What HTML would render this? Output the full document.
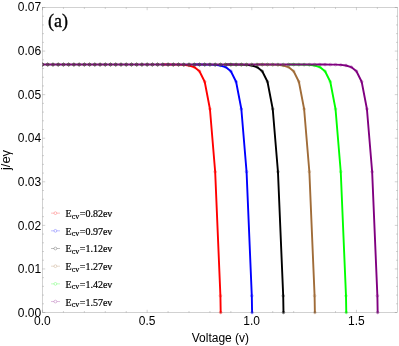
<!DOCTYPE html><html><head><meta charset="utf-8"><style>html,body{margin:0;padding:0;background:#fff;}body{width:399px;height:346px;overflow:hidden;}svg{display:block;will-change:transform;}text{font-family:"Liberation Sans",sans-serif;}</style></head><body>
<svg width="399" height="346" viewBox="0 0 399 346">
<rect width="399" height="346" fill="#fff"/>
<defs><clipPath id="c"><rect x="42" y="7" width="356" height="310"/></clipPath></defs>
<g clip-path="url(#c)" fill="none" stroke-linejoin="round">
<polyline stroke="#ff0000" stroke-width="1.9" stroke-linecap="butt" points="162.85,64.56 168.08,64.57 173.31,64.60 178.55,64.67 183.78,64.89 189.01,65.47 194.24,67.05 199.48,71.24 204.71,81.76 209.94,109.03 215.17,171.74 220.41,295.81 220.70,312.50"/>
<circle cx="220.70" cy="312.50" r="0.95" fill="#ff0000"/>
<polyline stroke="#0000ff" stroke-width="1.9" stroke-linecap="butt" points="194.24,64.56 199.48,64.57 204.71,64.60 209.94,64.67 215.17,64.89 220.41,65.47 225.64,67.05 230.87,71.24 236.10,81.76 241.34,109.03 246.57,171.74 251.80,295.81 252.09,312.50"/>
<circle cx="252.09" cy="312.50" r="0.95" fill="#0000ff"/>
<polyline stroke="#000000" stroke-width="1.9" stroke-linecap="butt" points="225.64,64.56 230.87,64.57 236.10,64.60 241.34,64.67 246.57,64.89 251.80,65.47 257.03,67.05 262.26,71.24 267.50,81.76 272.73,109.03 277.96,171.74 283.20,295.81 283.49,312.50"/>
<circle cx="283.49" cy="312.50" r="0.95" fill="#000000"/>
<polyline stroke="#a06c38" stroke-width="1.9" stroke-linecap="butt" points="257.03,64.56 262.26,64.57 267.50,64.60 272.73,64.67 277.96,64.89 283.20,65.47 288.43,67.05 293.66,71.24 298.89,81.76 304.12,109.03 309.36,171.74 314.59,295.81 314.88,312.50"/>
<circle cx="314.88" cy="312.50" r="0.95" fill="#a06c38"/>
<polyline stroke="#00ff00" stroke-width="1.9" stroke-linecap="butt" points="288.43,64.56 293.66,64.57 298.89,64.60 304.12,64.67 309.36,64.89 314.59,65.47 319.82,67.05 325.06,71.24 330.29,81.76 335.52,109.03 340.75,171.74 345.99,295.81 346.28,312.50"/>
<circle cx="346.28" cy="312.50" r="0.95" fill="#00ff00"/>
<polyline stroke="#800080" stroke-width="1.9" stroke-linecap="butt" points="42.50,64.55 47.73,64.55 52.97,64.55 58.20,64.55 63.43,64.55 68.66,64.55 73.90,64.55 79.13,64.55 84.36,64.55 89.59,64.55 94.83,64.55 100.06,64.55 105.29,64.55 110.52,64.55 115.76,64.55 120.99,64.55 126.22,64.55 131.45,64.55 136.69,64.55 141.92,64.55 147.15,64.55 152.38,64.55 157.62,64.55 162.85,64.55 168.08,64.55 173.31,64.55 178.55,64.55 183.78,64.55 189.01,64.55 194.24,64.55 199.48,64.55 204.71,64.55 209.94,64.55 215.17,64.55 220.41,64.55 225.64,64.55 230.87,64.55 236.10,64.55 241.34,64.55 246.57,64.55 251.80,64.55 257.03,64.55 262.26,64.55 267.50,64.55 272.73,64.55 277.96,64.55 283.20,64.55 288.43,64.55 293.66,64.55 298.89,64.55 304.12,64.55 309.36,64.55 314.59,64.55 319.82,64.56 325.06,64.57 330.29,64.60 335.52,64.67 340.75,64.89 345.99,65.47 351.22,67.05 356.45,71.24 361.68,81.76 366.92,109.03 372.15,171.74 377.38,295.81 377.67,312.50"/>
<circle cx="377.67" cy="312.50" r="0.95" fill="#800080"/>
<g stroke="#ff0000" stroke-opacity="0.5" stroke-width="0.6">
<circle cx="42.50" cy="64.55" r="1.35"/>
<circle cx="47.73" cy="64.55" r="1.35"/>
<circle cx="52.97" cy="64.55" r="1.35"/>
<circle cx="58.20" cy="64.55" r="1.35"/>
<circle cx="63.43" cy="64.55" r="1.35"/>
<circle cx="68.66" cy="64.55" r="1.35"/>
<circle cx="73.90" cy="64.55" r="1.35"/>
<circle cx="79.13" cy="64.55" r="1.35"/>
<circle cx="84.36" cy="64.55" r="1.35"/>
<circle cx="89.59" cy="64.55" r="1.35"/>
<circle cx="94.83" cy="64.55" r="1.35"/>
<circle cx="100.06" cy="64.55" r="1.35"/>
<circle cx="105.29" cy="64.55" r="1.35"/>
<circle cx="110.52" cy="64.55" r="1.35"/>
<circle cx="115.76" cy="64.55" r="1.35"/>
<circle cx="120.99" cy="64.55" r="1.35"/>
<circle cx="126.22" cy="64.55" r="1.35"/>
<circle cx="131.45" cy="64.55" r="1.35"/>
<circle cx="136.69" cy="64.55" r="1.35"/>
<circle cx="141.92" cy="64.55" r="1.35"/>
<circle cx="147.15" cy="64.55" r="1.35"/>
<circle cx="152.38" cy="64.55" r="1.35"/>
<circle cx="157.62" cy="64.55" r="1.35"/>
<circle cx="162.85" cy="64.56" r="1.35"/>
<circle cx="168.08" cy="64.57" r="1.35"/>
<circle cx="173.31" cy="64.60" r="1.35"/>
<circle cx="178.55" cy="64.67" r="1.35"/>
<circle cx="183.78" cy="64.89" r="1.35"/>
<circle cx="189.01" cy="65.47" r="1.35"/>
<circle cx="194.24" cy="67.05" r="1.35"/>
<circle cx="199.48" cy="71.24" r="1.35"/>
<circle cx="204.71" cy="81.76" r="1.35"/>
<circle cx="209.94" cy="109.03" r="1.35"/>
<circle cx="215.17" cy="171.74" r="1.35"/>
<circle cx="220.41" cy="295.81" r="1.35"/>
<circle cx="220.70" cy="312.50" r="1.35"/>
</g>
<g stroke="#0000ff" stroke-opacity="0.5" stroke-width="0.6">
<circle cx="42.50" cy="64.55" r="1.35"/>
<circle cx="47.73" cy="64.55" r="1.35"/>
<circle cx="52.97" cy="64.55" r="1.35"/>
<circle cx="58.20" cy="64.55" r="1.35"/>
<circle cx="63.43" cy="64.55" r="1.35"/>
<circle cx="68.66" cy="64.55" r="1.35"/>
<circle cx="73.90" cy="64.55" r="1.35"/>
<circle cx="79.13" cy="64.55" r="1.35"/>
<circle cx="84.36" cy="64.55" r="1.35"/>
<circle cx="89.59" cy="64.55" r="1.35"/>
<circle cx="94.83" cy="64.55" r="1.35"/>
<circle cx="100.06" cy="64.55" r="1.35"/>
<circle cx="105.29" cy="64.55" r="1.35"/>
<circle cx="110.52" cy="64.55" r="1.35"/>
<circle cx="115.76" cy="64.55" r="1.35"/>
<circle cx="120.99" cy="64.55" r="1.35"/>
<circle cx="126.22" cy="64.55" r="1.35"/>
<circle cx="131.45" cy="64.55" r="1.35"/>
<circle cx="136.69" cy="64.55" r="1.35"/>
<circle cx="141.92" cy="64.55" r="1.35"/>
<circle cx="147.15" cy="64.55" r="1.35"/>
<circle cx="152.38" cy="64.55" r="1.35"/>
<circle cx="157.62" cy="64.55" r="1.35"/>
<circle cx="162.85" cy="64.55" r="1.35"/>
<circle cx="168.08" cy="64.55" r="1.35"/>
<circle cx="173.31" cy="64.55" r="1.35"/>
<circle cx="178.55" cy="64.55" r="1.35"/>
<circle cx="183.78" cy="64.55" r="1.35"/>
<circle cx="189.01" cy="64.55" r="1.35"/>
<circle cx="194.24" cy="64.56" r="1.35"/>
<circle cx="199.48" cy="64.57" r="1.35"/>
<circle cx="204.71" cy="64.60" r="1.35"/>
<circle cx="209.94" cy="64.67" r="1.35"/>
<circle cx="215.17" cy="64.89" r="1.35"/>
<circle cx="220.41" cy="65.47" r="1.35"/>
<circle cx="225.64" cy="67.05" r="1.35"/>
<circle cx="230.87" cy="71.24" r="1.35"/>
<circle cx="236.10" cy="81.76" r="1.35"/>
<circle cx="241.34" cy="109.03" r="1.35"/>
<circle cx="246.57" cy="171.74" r="1.35"/>
<circle cx="251.80" cy="295.81" r="1.35"/>
<circle cx="252.09" cy="312.50" r="1.35"/>
</g>
<g stroke="#000000" stroke-opacity="0.5" stroke-width="0.6">
<circle cx="42.50" cy="64.55" r="1.35"/>
<circle cx="47.73" cy="64.55" r="1.35"/>
<circle cx="52.97" cy="64.55" r="1.35"/>
<circle cx="58.20" cy="64.55" r="1.35"/>
<circle cx="63.43" cy="64.55" r="1.35"/>
<circle cx="68.66" cy="64.55" r="1.35"/>
<circle cx="73.90" cy="64.55" r="1.35"/>
<circle cx="79.13" cy="64.55" r="1.35"/>
<circle cx="84.36" cy="64.55" r="1.35"/>
<circle cx="89.59" cy="64.55" r="1.35"/>
<circle cx="94.83" cy="64.55" r="1.35"/>
<circle cx="100.06" cy="64.55" r="1.35"/>
<circle cx="105.29" cy="64.55" r="1.35"/>
<circle cx="110.52" cy="64.55" r="1.35"/>
<circle cx="115.76" cy="64.55" r="1.35"/>
<circle cx="120.99" cy="64.55" r="1.35"/>
<circle cx="126.22" cy="64.55" r="1.35"/>
<circle cx="131.45" cy="64.55" r="1.35"/>
<circle cx="136.69" cy="64.55" r="1.35"/>
<circle cx="141.92" cy="64.55" r="1.35"/>
<circle cx="147.15" cy="64.55" r="1.35"/>
<circle cx="152.38" cy="64.55" r="1.35"/>
<circle cx="157.62" cy="64.55" r="1.35"/>
<circle cx="162.85" cy="64.55" r="1.35"/>
<circle cx="168.08" cy="64.55" r="1.35"/>
<circle cx="173.31" cy="64.55" r="1.35"/>
<circle cx="178.55" cy="64.55" r="1.35"/>
<circle cx="183.78" cy="64.55" r="1.35"/>
<circle cx="189.01" cy="64.55" r="1.35"/>
<circle cx="194.24" cy="64.55" r="1.35"/>
<circle cx="199.48" cy="64.55" r="1.35"/>
<circle cx="204.71" cy="64.55" r="1.35"/>
<circle cx="209.94" cy="64.55" r="1.35"/>
<circle cx="215.17" cy="64.55" r="1.35"/>
<circle cx="220.41" cy="64.55" r="1.35"/>
<circle cx="225.64" cy="64.56" r="1.35"/>
<circle cx="230.87" cy="64.57" r="1.35"/>
<circle cx="236.10" cy="64.60" r="1.35"/>
<circle cx="241.34" cy="64.67" r="1.35"/>
<circle cx="246.57" cy="64.89" r="1.35"/>
<circle cx="251.80" cy="65.47" r="1.35"/>
<circle cx="257.03" cy="67.05" r="1.35"/>
<circle cx="262.26" cy="71.24" r="1.35"/>
<circle cx="267.50" cy="81.76" r="1.35"/>
<circle cx="272.73" cy="109.03" r="1.35"/>
<circle cx="277.96" cy="171.74" r="1.35"/>
<circle cx="283.20" cy="295.81" r="1.35"/>
<circle cx="283.49" cy="312.50" r="1.35"/>
</g>
<g stroke="#a06c38" stroke-opacity="0.5" stroke-width="0.6">
<circle cx="42.50" cy="64.55" r="1.35"/>
<circle cx="47.73" cy="64.55" r="1.35"/>
<circle cx="52.97" cy="64.55" r="1.35"/>
<circle cx="58.20" cy="64.55" r="1.35"/>
<circle cx="63.43" cy="64.55" r="1.35"/>
<circle cx="68.66" cy="64.55" r="1.35"/>
<circle cx="73.90" cy="64.55" r="1.35"/>
<circle cx="79.13" cy="64.55" r="1.35"/>
<circle cx="84.36" cy="64.55" r="1.35"/>
<circle cx="89.59" cy="64.55" r="1.35"/>
<circle cx="94.83" cy="64.55" r="1.35"/>
<circle cx="100.06" cy="64.55" r="1.35"/>
<circle cx="105.29" cy="64.55" r="1.35"/>
<circle cx="110.52" cy="64.55" r="1.35"/>
<circle cx="115.76" cy="64.55" r="1.35"/>
<circle cx="120.99" cy="64.55" r="1.35"/>
<circle cx="126.22" cy="64.55" r="1.35"/>
<circle cx="131.45" cy="64.55" r="1.35"/>
<circle cx="136.69" cy="64.55" r="1.35"/>
<circle cx="141.92" cy="64.55" r="1.35"/>
<circle cx="147.15" cy="64.55" r="1.35"/>
<circle cx="152.38" cy="64.55" r="1.35"/>
<circle cx="157.62" cy="64.55" r="1.35"/>
<circle cx="162.85" cy="64.55" r="1.35"/>
<circle cx="168.08" cy="64.55" r="1.35"/>
<circle cx="173.31" cy="64.55" r="1.35"/>
<circle cx="178.55" cy="64.55" r="1.35"/>
<circle cx="183.78" cy="64.55" r="1.35"/>
<circle cx="189.01" cy="64.55" r="1.35"/>
<circle cx="194.24" cy="64.55" r="1.35"/>
<circle cx="199.48" cy="64.55" r="1.35"/>
<circle cx="204.71" cy="64.55" r="1.35"/>
<circle cx="209.94" cy="64.55" r="1.35"/>
<circle cx="215.17" cy="64.55" r="1.35"/>
<circle cx="220.41" cy="64.55" r="1.35"/>
<circle cx="225.64" cy="64.55" r="1.35"/>
<circle cx="230.87" cy="64.55" r="1.35"/>
<circle cx="236.10" cy="64.55" r="1.35"/>
<circle cx="241.34" cy="64.55" r="1.35"/>
<circle cx="246.57" cy="64.55" r="1.35"/>
<circle cx="251.80" cy="64.55" r="1.35"/>
<circle cx="257.03" cy="64.56" r="1.35"/>
<circle cx="262.26" cy="64.57" r="1.35"/>
<circle cx="267.50" cy="64.60" r="1.35"/>
<circle cx="272.73" cy="64.67" r="1.35"/>
<circle cx="277.96" cy="64.89" r="1.35"/>
<circle cx="283.20" cy="65.47" r="1.35"/>
<circle cx="288.43" cy="67.05" r="1.35"/>
<circle cx="293.66" cy="71.24" r="1.35"/>
<circle cx="298.89" cy="81.76" r="1.35"/>
<circle cx="304.12" cy="109.03" r="1.35"/>
<circle cx="309.36" cy="171.74" r="1.35"/>
<circle cx="314.59" cy="295.81" r="1.35"/>
<circle cx="314.88" cy="312.50" r="1.35"/>
</g>
<g stroke="#00ff00" stroke-opacity="0.5" stroke-width="0.6">
<circle cx="42.50" cy="64.55" r="1.35"/>
<circle cx="47.73" cy="64.55" r="1.35"/>
<circle cx="52.97" cy="64.55" r="1.35"/>
<circle cx="58.20" cy="64.55" r="1.35"/>
<circle cx="63.43" cy="64.55" r="1.35"/>
<circle cx="68.66" cy="64.55" r="1.35"/>
<circle cx="73.90" cy="64.55" r="1.35"/>
<circle cx="79.13" cy="64.55" r="1.35"/>
<circle cx="84.36" cy="64.55" r="1.35"/>
<circle cx="89.59" cy="64.55" r="1.35"/>
<circle cx="94.83" cy="64.55" r="1.35"/>
<circle cx="100.06" cy="64.55" r="1.35"/>
<circle cx="105.29" cy="64.55" r="1.35"/>
<circle cx="110.52" cy="64.55" r="1.35"/>
<circle cx="115.76" cy="64.55" r="1.35"/>
<circle cx="120.99" cy="64.55" r="1.35"/>
<circle cx="126.22" cy="64.55" r="1.35"/>
<circle cx="131.45" cy="64.55" r="1.35"/>
<circle cx="136.69" cy="64.55" r="1.35"/>
<circle cx="141.92" cy="64.55" r="1.35"/>
<circle cx="147.15" cy="64.55" r="1.35"/>
<circle cx="152.38" cy="64.55" r="1.35"/>
<circle cx="157.62" cy="64.55" r="1.35"/>
<circle cx="162.85" cy="64.55" r="1.35"/>
<circle cx="168.08" cy="64.55" r="1.35"/>
<circle cx="173.31" cy="64.55" r="1.35"/>
<circle cx="178.55" cy="64.55" r="1.35"/>
<circle cx="183.78" cy="64.55" r="1.35"/>
<circle cx="189.01" cy="64.55" r="1.35"/>
<circle cx="194.24" cy="64.55" r="1.35"/>
<circle cx="199.48" cy="64.55" r="1.35"/>
<circle cx="204.71" cy="64.55" r="1.35"/>
<circle cx="209.94" cy="64.55" r="1.35"/>
<circle cx="215.17" cy="64.55" r="1.35"/>
<circle cx="220.41" cy="64.55" r="1.35"/>
<circle cx="225.64" cy="64.55" r="1.35"/>
<circle cx="230.87" cy="64.55" r="1.35"/>
<circle cx="236.10" cy="64.55" r="1.35"/>
<circle cx="241.34" cy="64.55" r="1.35"/>
<circle cx="246.57" cy="64.55" r="1.35"/>
<circle cx="251.80" cy="64.55" r="1.35"/>
<circle cx="257.03" cy="64.55" r="1.35"/>
<circle cx="262.26" cy="64.55" r="1.35"/>
<circle cx="267.50" cy="64.55" r="1.35"/>
<circle cx="272.73" cy="64.55" r="1.35"/>
<circle cx="277.96" cy="64.55" r="1.35"/>
<circle cx="283.20" cy="64.55" r="1.35"/>
<circle cx="288.43" cy="64.56" r="1.35"/>
<circle cx="293.66" cy="64.57" r="1.35"/>
<circle cx="298.89" cy="64.60" r="1.35"/>
<circle cx="304.12" cy="64.67" r="1.35"/>
<circle cx="309.36" cy="64.89" r="1.35"/>
<circle cx="314.59" cy="65.47" r="1.35"/>
<circle cx="319.82" cy="67.05" r="1.35"/>
<circle cx="325.06" cy="71.24" r="1.35"/>
<circle cx="330.29" cy="81.76" r="1.35"/>
<circle cx="335.52" cy="109.03" r="1.35"/>
<circle cx="340.75" cy="171.74" r="1.35"/>
<circle cx="345.99" cy="295.81" r="1.35"/>
<circle cx="346.28" cy="312.50" r="1.35"/>
</g>
<g stroke="#800080" stroke-opacity="0.5" stroke-width="0.6">
<circle cx="42.50" cy="64.55" r="1.35"/>
<circle cx="47.73" cy="64.55" r="1.35"/>
<circle cx="52.97" cy="64.55" r="1.35"/>
<circle cx="58.20" cy="64.55" r="1.35"/>
<circle cx="63.43" cy="64.55" r="1.35"/>
<circle cx="68.66" cy="64.55" r="1.35"/>
<circle cx="73.90" cy="64.55" r="1.35"/>
<circle cx="79.13" cy="64.55" r="1.35"/>
<circle cx="84.36" cy="64.55" r="1.35"/>
<circle cx="89.59" cy="64.55" r="1.35"/>
<circle cx="94.83" cy="64.55" r="1.35"/>
<circle cx="100.06" cy="64.55" r="1.35"/>
<circle cx="105.29" cy="64.55" r="1.35"/>
<circle cx="110.52" cy="64.55" r="1.35"/>
<circle cx="115.76" cy="64.55" r="1.35"/>
<circle cx="120.99" cy="64.55" r="1.35"/>
<circle cx="126.22" cy="64.55" r="1.35"/>
<circle cx="131.45" cy="64.55" r="1.35"/>
<circle cx="136.69" cy="64.55" r="1.35"/>
<circle cx="141.92" cy="64.55" r="1.35"/>
<circle cx="147.15" cy="64.55" r="1.35"/>
<circle cx="152.38" cy="64.55" r="1.35"/>
<circle cx="157.62" cy="64.55" r="1.35"/>
<circle cx="162.85" cy="64.55" r="1.35"/>
<circle cx="168.08" cy="64.55" r="1.35"/>
<circle cx="173.31" cy="64.55" r="1.35"/>
<circle cx="178.55" cy="64.55" r="1.35"/>
<circle cx="183.78" cy="64.55" r="1.35"/>
<circle cx="189.01" cy="64.55" r="1.35"/>
<circle cx="194.24" cy="64.55" r="1.35"/>
<circle cx="199.48" cy="64.55" r="1.35"/>
<circle cx="204.71" cy="64.55" r="1.35"/>
<circle cx="209.94" cy="64.55" r="1.35"/>
<circle cx="215.17" cy="64.55" r="1.35"/>
<circle cx="220.41" cy="64.55" r="1.35"/>
<circle cx="225.64" cy="64.55" r="1.35"/>
<circle cx="230.87" cy="64.55" r="1.35"/>
<circle cx="236.10" cy="64.55" r="1.35"/>
<circle cx="241.34" cy="64.55" r="1.35"/>
<circle cx="246.57" cy="64.55" r="1.35"/>
<circle cx="251.80" cy="64.55" r="1.35"/>
<circle cx="257.03" cy="64.55" r="1.35"/>
<circle cx="262.26" cy="64.55" r="1.35"/>
<circle cx="267.50" cy="64.55" r="1.35"/>
<circle cx="272.73" cy="64.55" r="1.35"/>
<circle cx="277.96" cy="64.55" r="1.35"/>
<circle cx="283.20" cy="64.55" r="1.35"/>
<circle cx="288.43" cy="64.55" r="1.35"/>
<circle cx="293.66" cy="64.55" r="1.35"/>
<circle cx="298.89" cy="64.55" r="1.35"/>
<circle cx="304.12" cy="64.55" r="1.35"/>
<circle cx="309.36" cy="64.55" r="1.35"/>
<circle cx="314.59" cy="64.55" r="1.35"/>
<circle cx="319.82" cy="64.56" r="1.35"/>
<circle cx="325.06" cy="64.57" r="1.35"/>
<circle cx="330.29" cy="64.60" r="1.35"/>
<circle cx="335.52" cy="64.67" r="1.35"/>
<circle cx="340.75" cy="64.89" r="1.35"/>
<circle cx="345.99" cy="65.47" r="1.35"/>
<circle cx="351.22" cy="67.05" r="1.35"/>
<circle cx="356.45" cy="71.24" r="1.35"/>
<circle cx="361.68" cy="81.76" r="1.35"/>
<circle cx="366.92" cy="109.03" r="1.35"/>
<circle cx="372.15" cy="171.74" r="1.35"/>
<circle cx="377.38" cy="295.81" r="1.35"/>
<circle cx="377.67" cy="312.50" r="1.35"/>
</g>
</g>
<g stroke="#666" stroke-width="0.3" fill="none">
<rect x="42.5" y="7.5" width="355.0" height="305.0"/>
<path d="M42.50 312.5v-2.7M42.50 7.5v2.7"/>
<path d="M63.43 312.5v-1.5M63.43 7.5v1.5"/>
<path d="M84.36 312.5v-1.5M84.36 7.5v1.5"/>
<path d="M105.29 312.5v-1.5M105.29 7.5v1.5"/>
<path d="M126.22 312.5v-1.5M126.22 7.5v1.5"/>
<path d="M147.15 312.5v-2.7M147.15 7.5v2.7"/>
<path d="M168.08 312.5v-1.5M168.08 7.5v1.5"/>
<path d="M189.01 312.5v-1.5M189.01 7.5v1.5"/>
<path d="M209.94 312.5v-1.5M209.94 7.5v1.5"/>
<path d="M230.87 312.5v-1.5M230.87 7.5v1.5"/>
<path d="M251.80 312.5v-2.7M251.80 7.5v2.7"/>
<path d="M272.73 312.5v-1.5M272.73 7.5v1.5"/>
<path d="M293.66 312.5v-1.5M293.66 7.5v1.5"/>
<path d="M314.59 312.5v-1.5M314.59 7.5v1.5"/>
<path d="M335.52 312.5v-1.5M335.52 7.5v1.5"/>
<path d="M356.45 312.5v-2.7M356.45 7.5v2.7"/>
<path d="M377.38 312.5v-1.5M377.38 7.5v1.5"/>
<path d="M42.5 312.50h2.7M397.5 312.50h-2.7"/>
<path d="M42.5 303.79h1.5M397.5 303.79h-1.5"/>
<path d="M42.5 295.07h1.5M397.5 295.07h-1.5"/>
<path d="M42.5 286.36h1.5M397.5 286.36h-1.5"/>
<path d="M42.5 277.64h1.5M397.5 277.64h-1.5"/>
<path d="M42.5 268.93h2.7M397.5 268.93h-2.7"/>
<path d="M42.5 260.22h1.5M397.5 260.22h-1.5"/>
<path d="M42.5 251.50h1.5M397.5 251.50h-1.5"/>
<path d="M42.5 242.79h1.5M397.5 242.79h-1.5"/>
<path d="M42.5 234.07h1.5M397.5 234.07h-1.5"/>
<path d="M42.5 225.36h2.7M397.5 225.36h-2.7"/>
<path d="M42.5 216.65h1.5M397.5 216.65h-1.5"/>
<path d="M42.5 207.93h1.5M397.5 207.93h-1.5"/>
<path d="M42.5 199.22h1.5M397.5 199.22h-1.5"/>
<path d="M42.5 190.50h1.5M397.5 190.50h-1.5"/>
<path d="M42.5 181.79h2.7M397.5 181.79h-2.7"/>
<path d="M42.5 173.08h1.5M397.5 173.08h-1.5"/>
<path d="M42.5 164.36h1.5M397.5 164.36h-1.5"/>
<path d="M42.5 155.65h1.5M397.5 155.65h-1.5"/>
<path d="M42.5 146.93h1.5M397.5 146.93h-1.5"/>
<path d="M42.5 138.22h2.7M397.5 138.22h-2.7"/>
<path d="M42.5 129.51h1.5M397.5 129.51h-1.5"/>
<path d="M42.5 120.79h1.5M397.5 120.79h-1.5"/>
<path d="M42.5 112.08h1.5M397.5 112.08h-1.5"/>
<path d="M42.5 103.36h1.5M397.5 103.36h-1.5"/>
<path d="M42.5 94.65h2.7M397.5 94.65h-2.7"/>
<path d="M42.5 85.94h1.5M397.5 85.94h-1.5"/>
<path d="M42.5 77.22h1.5M397.5 77.22h-1.5"/>
<path d="M42.5 68.51h1.5M397.5 68.51h-1.5"/>
<path d="M42.5 59.79h1.5M397.5 59.79h-1.5"/>
<path d="M42.5 51.08h2.7M397.5 51.08h-2.7"/>
<path d="M42.5 42.37h1.5M397.5 42.37h-1.5"/>
<path d="M42.5 33.65h1.5M397.5 33.65h-1.5"/>
<path d="M42.5 24.94h1.5M397.5 24.94h-1.5"/>
<path d="M42.5 16.22h1.5M397.5 16.22h-1.5"/>
<path d="M42.5 7.51h2.7M397.5 7.51h-2.7"/>
</g>
<g font-size="12" fill="#000">
<text x="41.1" y="317.1" text-anchor="end">0.00</text>
<text x="41.1" y="273.4" text-anchor="end">0.01</text>
<text x="41.1" y="229.7" text-anchor="end">0.02</text>
<text x="41.1" y="186.0" text-anchor="end">0.03</text>
<text x="41.1" y="142.3" text-anchor="end">0.04</text>
<text x="41.1" y="98.6" text-anchor="end">0.05</text>
<text x="41.1" y="55.0" text-anchor="end">0.06</text>
<text x="41.1" y="11.3" text-anchor="end">0.07</text>
<text x="42.4" y="324.6" text-anchor="middle">0.0</text>
<text x="147.1" y="324.6" text-anchor="middle">0.5</text>
<text x="251.7" y="324.6" text-anchor="middle">1.0</text>
<text x="356.4" y="324.6" text-anchor="middle">1.5</text>
<text x="220.4" y="342" text-anchor="middle">Voltage (v)</text>
<text transform="translate(10.3,160) rotate(-90)" font-size="13" text-anchor="middle">j/e&#947;</text>
</g>
<text x="48" y="27.4" font-size="18" stroke="#000" stroke-width="0.3" style="font-family:'Liberation Serif',serif">(a)</text>
<g stroke="#ff0000" stroke-opacity="0.5" stroke-width="0.5" fill="none"><path d="M51 213.15H60"/><circle cx="55.4" cy="213.15" r="1.4" fill="#fff"/></g>
<text x="65.6" y="217.10" font-size="10" stroke="#000" stroke-width="0.2" style="font-family:'Liberation Serif',serif">E<tspan font-size="8" dy="1.6">cv</tspan><tspan dy="-1.6" dx="0.5">=0.82ev</tspan></text>
<g stroke="#0000ff" stroke-opacity="0.5" stroke-width="0.5" fill="none"><path d="M51 230.83H60"/><circle cx="55.4" cy="230.83" r="1.4" fill="#fff"/></g>
<text x="65.6" y="234.78" font-size="10" stroke="#000" stroke-width="0.2" style="font-family:'Liberation Serif',serif">E<tspan font-size="8" dy="1.6">cv</tspan><tspan dy="-1.6" dx="0.5">=0.97ev</tspan></text>
<g stroke="#000000" stroke-opacity="0.5" stroke-width="0.5" fill="none"><path d="M51 248.51H60"/><circle cx="55.4" cy="248.51" r="1.4" fill="#fff"/></g>
<text x="65.6" y="252.46" font-size="10" stroke="#000" stroke-width="0.2" style="font-family:'Liberation Serif',serif">E<tspan font-size="8" dy="1.6">cv</tspan><tspan dy="-1.6" dx="0.5">=1.12ev</tspan></text>
<g stroke="#a06c38" stroke-opacity="0.5" stroke-width="0.5" fill="none"><path d="M51 266.19H60"/><circle cx="55.4" cy="266.19" r="1.4" fill="#fff"/></g>
<text x="65.6" y="270.14" font-size="10" stroke="#000" stroke-width="0.2" style="font-family:'Liberation Serif',serif">E<tspan font-size="8" dy="1.6">cv</tspan><tspan dy="-1.6" dx="0.5">=1.27ev</tspan></text>
<g stroke="#00ff00" stroke-opacity="0.5" stroke-width="0.5" fill="none"><path d="M51 283.87H60"/><circle cx="55.4" cy="283.87" r="1.4" fill="#fff"/></g>
<text x="65.6" y="287.82" font-size="10" stroke="#000" stroke-width="0.2" style="font-family:'Liberation Serif',serif">E<tspan font-size="8" dy="1.6">cv</tspan><tspan dy="-1.6" dx="0.5">=1.42ev</tspan></text>
<g stroke="#800080" stroke-opacity="0.5" stroke-width="0.5" fill="none"><path d="M51 301.55H60"/><circle cx="55.4" cy="301.55" r="1.4" fill="#fff"/></g>
<text x="65.6" y="305.50" font-size="10" stroke="#000" stroke-width="0.2" style="font-family:'Liberation Serif',serif">E<tspan font-size="8" dy="1.6">cv</tspan><tspan dy="-1.6" dx="0.5">=1.57ev</tspan></text>
</svg></body></html>
